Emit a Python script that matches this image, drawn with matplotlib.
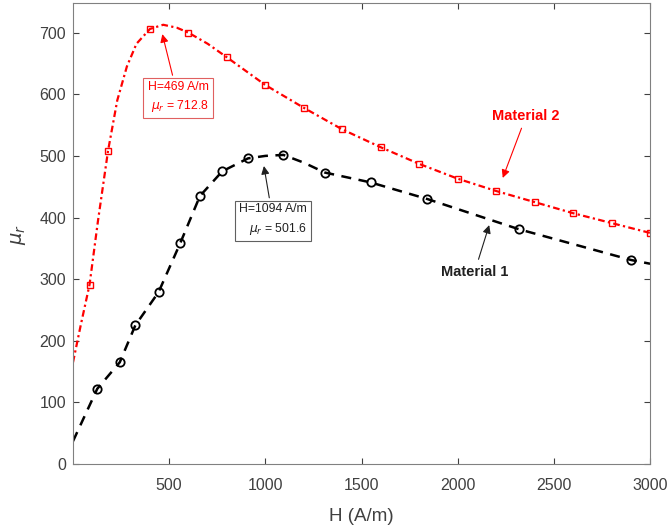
import numpy as np
import matplotlib
matplotlib.use("Agg")
from matplotlib import pyplot as plt

# Material 1 (black circles)
h1_mark = [126, 243, 324, 445, 557, 660, 776, 910, 1094, 1309, 1547, 1842, 2318, 2902]
mu1_mark = [122, 165, 225, 279, 358, 435, 475, 496, 501.6, 473, 457, 430, 381, 331]
h1_line = [0, 126, 243, 324, 445, 557, 660, 776, 910, 1000, 1094, 1200, 1309, 1547, 1842, 2318, 2902, 3000]
mu1_line = [37, 122, 165, 225, 279, 358, 435, 475, 496, 500, 501.6, 489, 473, 457, 430, 381, 331, 325]

# Material 2 (red squares)
h2_mark = [86, 182, 400, 600, 800, 1000, 1200, 1400, 1600, 1800, 2000, 2200, 2400, 2600, 2800, 3000]
mu2_mark = [291, 508, 706, 700, 660, 615, 578, 543, 514, 487, 463, 443, 425, 407, 391, 375]
h2_line = [0, 40, 86, 130, 182, 230, 280, 330, 400, 469, 540, 600, 700, 800, 1000, 1200, 1400,
           1600, 1800, 2000, 2200, 2400, 2600, 2800, 3000]
mu2_line = [165, 225, 291, 395, 508, 590, 645, 682, 706, 712.8, 708, 700, 682, 660, 615, 578, 543,
            514, 487, 463, 443, 425, 407, 391, 375]

plt.rcParams['font.family'] = ['Liberation Sans', 'DejaVu Sans']

fig = plt.figure(figsize=(6.71, 5.31), dpi=100)
ax = fig.add_axes([0.1088, 0.1262, 0.860, 0.868])

ax.plot(h1_line, mu1_line, color='black', ls=(0, (4, 3)), lw=1.8)
ax.plot(h1_mark, mu1_mark, 'o', mfc='none', mec='black', ms=6, mew=1.3)
ax.plot(h2_line, mu2_line, color='red', ls=(0, (3, 1.5, 1, 1.5)), lw=1.6)
ax.plot(h2_mark, mu2_mark, 's', mfc='none', mec='red', ms=5, mew=1.0)

ax.set_xlim(0, 3000)
ax.set_ylim(0, 748)
ax.set_xticks([500, 1000, 1500, 2000, 2500, 3000])
ax.set_yticks(np.arange(0, 701, 100))
ax.tick_params(direction='in', top=True, right=True, labelsize=11.5, colors='#404040', length=4)
ax.tick_params(axis='x', pad=10)
ax.tick_params(axis='y', pad=5)
for s in ax.spines.values():
    s.set_color('#808080')
ax.set_xlabel('H (A/m)', fontsize=13.5, color='#404040')
ax.xaxis.set_label_coords(0.5, -0.095)
ax.set_ylabel(r'$\mu_r$', fontsize=14, color='#404040')
ax.yaxis.set_label_coords(-0.078, 0.497)

ax.annotate('H=469 A/m\n$\\mu_r$ = 712.8', xy=(461, 702), xytext=(546, 595),
            ha='center', va='center', multialignment='right', fontsize=8.8, color='red',
            linespacing=1.5,
            bbox=dict(boxstyle='square,pad=0.35', fc='white', ec='#e06060', lw=0.8),
            arrowprops=dict(arrowstyle='-|>', color='red', lw=0.8, mutation_scale=12))
ax.annotate('H=1094 A/m\n$\\mu_r$ = 501.6', xy=(990, 488), xytext=(1040, 396),
            ha='center', va='center', multialignment='right', fontsize=8.8, color='#202020',
            linespacing=1.5,
            bbox=dict(boxstyle='square,pad=0.35', fc='white', ec='#606060', lw=0.8),
            arrowprops=dict(arrowstyle='-|>', color='#202020', lw=0.8, mutation_scale=12))
ax.annotate('Material 2', xy=(2229, 460), xytext=(2356, 565), ha='center', va='center',
            fontsize=10.5, fontweight='bold', color='red',
            arrowprops=dict(arrowstyle='-|>', color='red', lw=0.8, mutation_scale=12))
ax.annotate('Material 1', xy=(2168, 392), xytext=(2088, 312), ha='center', va='center',
            fontsize=10.5, fontweight='bold', color='#202020',
            arrowprops=dict(arrowstyle='-|>', color='#202020', lw=0.8, mutation_scale=12))

fig.savefig('out.png', dpi=100)
